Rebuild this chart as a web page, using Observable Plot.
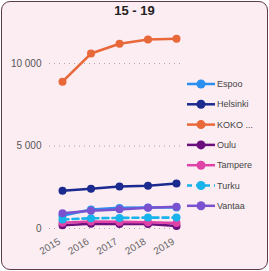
<!DOCTYPE html>
<html><head><meta charset="utf-8">
<script src="https://cdn.jsdelivr.net/npm/d3@7"></script>
<script src="https://cdn.jsdelivr.net/npm/@observablehq/plot@0.6"></script>
<style>
html,body{margin:0;padding:0;background:#fff;}
#wrap{position:relative;width:269px;height:271px;overflow:hidden;font-family:"Liberation Sans",Arial,sans-serif;}
#card{position:absolute;left:1px;top:1px;width:267px;height:269px;box-sizing:border-box;border:1.5px solid #5e3b4a;border-radius:9px;background:#fcedf3;}
#title{position:absolute;left:0;top:3px;width:269px;text-align:center;font-weight:bold;font-size:13px;color:#222;}
#plot{position:absolute;left:0;top:0;}
#legend{position:absolute;left:0;top:0;}
</style>
</head><body>
<div id="wrap"><div id="card"></div><div id="title">15 - 19</div><div id="plot"></div><svg id="legend" width="269" height="271"></svg></div>
<script>
const years = [2015, 2016, 2017, 2018, 2019];
const series = ["Espoo", "Helsinki", "KOKO ...", "Oulu", "Tampere", "Turku", "Vantaa"];
const colors = ["#2b8ff0", "#1a2a8f", "#e8683a", "#6b0f7e", "#e043a8", "#17b3ea", "#7a52cf"];
const espoo    = [780, 1150, 1250, 1270, 1280];
const helsinki = [2290, 2410, 2550, 2590, 2730];
const koko     = [8900, 10600, 11200, 11450, 11500];
const oulu     = [200, 290, 280, 270, 150];
const tampere  = [350, 420, 400, 380, 330];
const turku    = [550, 620, 640, 660, 660];
const vantaa   = [920, 1080, 1160, 1260, 1320];
const yTicks = [0, 5000, 10000];
const yTickLabels = ["0", "5 000", "10 000"];
const dashed = ["Turku"];

const valuesBySeries = [espoo, helsinki, koko, oulu, tampere, turku, vantaa];
const data = series.flatMap((s, i) => years.map((y, j) => ({series: s, year: y, value: valuesBySeries[i][j]})));

const marks = [
  Plot.gridY(yTicks, {stroke: "#888", strokeOpacity: 0.7, strokeDasharray: "1,4"}),
  Plot.axisY(yTicks, {tickSize: 0, tickPadding: 8, fontSize: 10, fill: "#555", tickFormat: d => yTickLabels[yTicks.indexOf(d)]}),
  Plot.axisX(years, {tickSize: 0, tickPadding: 12, dx: -3, tickRotate: -32, fontSize: 10, fill: "#666", tickFormat: d => String(d)})
];
series.forEach(s => {
  const d = data.filter(r => r.series === s);
  marks.push(Plot.line(d, {x: "year", y: "value", stroke: "series", strokeWidth: 2.6, strokeDasharray: dashed.includes(s) ? "6,4" : null}));
  marks.push(Plot.dot(d, {x: "year", y: "value", fill: "series", r: 4}));
});

const chart = Plot.plot({
  width: 269, height: 271,
  marginLeft: 49, marginRight: 86, marginTop: 30, marginBottom: 43,
  style: {background: "transparent", fontFamily: "'Liberation Sans', Arial, sans-serif"},
  x: {domain: [2015, 2019], insetLeft: 13, insetRight: 7, label: null, axis: null},
  y: {domain: [0, 12000], label: null, axis: null},
  color: {domain: series, range: colors},
  marks
});
document.getElementById("plot").appendChild(chart);

// legend
const lg = d3.select("#legend");
series.forEach((s, i) => {
  const y = 84 + i * 20.3;
  const g = lg.append("g");
  g.append("line").attr("x1", 187).attr("x2", 215).attr("y1", y).attr("y2", y)
    .attr("stroke", colors[i]).attr("stroke-width", 2.5)
    .attr("stroke-dasharray", dashed.includes(s) ? "5,4" : null);
  g.append("circle").attr("cx", 201).attr("cy", y).attr("r", 4.5).attr("fill", colors[i]);
  g.append("text").attr("x", 217).attr("y", y).attr("dy", "0.35em")
    .attr("font-size", 9).attr("fill", "#444")
    .attr("font-family", "'Liberation Sans', Arial, sans-serif").text(s);
});
</script>
</body></html>
